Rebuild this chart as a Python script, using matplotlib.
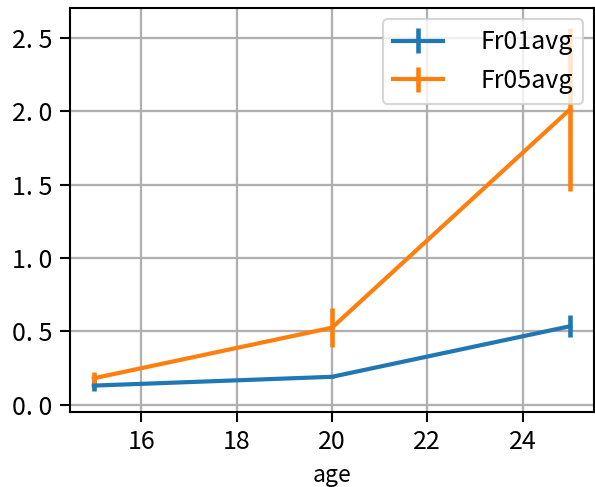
import numpy as np
import matplotlib
matplotlib.use("Agg")
import matplotlib.pyplot as plt

plt.rcParams['font.family'] = ['Noto Sans CJK JP', 'DejaVu Sans']
plt.rcParams['font.size'] = 12
plt.rcParams['xtick.major.size'] = 4.8
plt.rcParams['ytick.major.size'] = 4.8
plt.rcParams['xtick.major.width'] = 1.0
plt.rcParams['ytick.major.width'] = 1.0
plt.rcParams['axes.linewidth'] = 1.0

age = [15, 20, 25]
fr01 = [0.13, 0.19, 0.535]
fr01_err = [0.035, 0.01, 0.075]
fr05 = [0.18, 0.525, 2.015]
fr05_err = [0.045, 0.135, 0.555]
labels = ['Fr01avg', 'Fr05avg']

dpi = 150
fig = plt.figure(figsize=(595 / dpi, 487 / dpi), dpi=dpi)
ax = fig.add_axes([70 / 595, 75 / 487, 524 / 595, 404 / 487])

ax.errorbar(age, fr01, yerr=fr01_err, color='#1f77b4', lw=2, elinewidth=2.2, label=labels[0])
ax.errorbar(age, fr05, yerr=fr05_err, color='#ff7f0e', lw=2, elinewidth=2.2, label=labels[1])

ax.set_xlim(14.5, 25.5)
ax.set_ylim(-0.05, 2.705)
ax.set_xticks([16, 18, 20, 22, 24])
ax.set_yticks([0.0, 0.5, 1.0, 1.5, 2.0, 2.5])
ax.set_yticklabels(['0. 0', '0. 5', '1. 0', '1. 5', '2. 0', '2. 5'])
ax.set_xlabel('age', fontsize=11)
ax.grid(True, color='#b0b0b0', lw=1.1)
ax.set_axisbelow(True)
ax.legend(loc='upper right', handletextpad=1.5, borderaxespad=0.45)

fig.savefig('out.png', dpi=dpi)
